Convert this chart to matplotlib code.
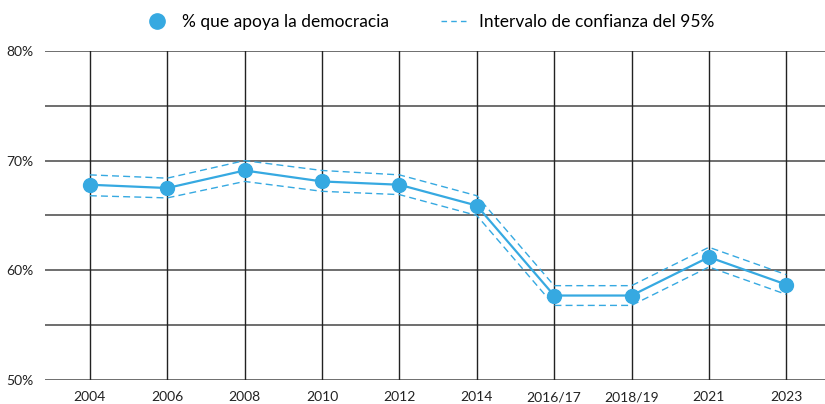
import matplotlib.pyplot as plt
from matplotlib.lines import Line2D

years = ["2004", "2006", "2008", "2010", "2012", "2014", "2016/17", "2018/19", "2021", "2023"]
apoyo = [67.8, 67.5, 69.1, 68.1, 67.8, 65.9, 57.7, 57.7, 61.2, 58.7]
ic_sup = [68.7, 68.4, 70.0, 69.1, 68.7, 66.8, 58.6, 58.6, 62.1, 59.6]
ic_inf = [66.8, 66.6, 68.1, 67.2, 66.9, 65.0, 56.8, 56.8, 60.3, 57.8]

azul = "#36a9e1"
plt.rcParams["font.family"] = ["Lato", "DejaVu Sans"]

fig = plt.figure(figsize=(8.25, 4.04), dpi=100)
ax = fig.add_axes([0.0545, 0.0594, 0.9455, 0.8146])

xs = list(range(len(years)))

# rejilla
for y in range(50, 81, 5):
    ax.axhline(y, color="#555555", lw=1.2, zorder=1)
for x in xs:
    ax.axvline(x, color="#222222", lw=1.0, zorder=1)

ax.plot(xs, ic_sup, color=azul, lw=1, ls=(0, (5, 3)), zorder=2)
ax.plot(xs, ic_inf, color=azul, lw=1, ls=(0, (5, 3)), zorder=2)
ax.plot(xs, apoyo, color=azul, lw=1.6, marker="o", ms=10, zorder=3)

ax.set_xlim(-0.58, 9.5)
ax.set_ylim(50, 80)
ax.set_xticks(xs)
ax.set_xticklabels(years)
ax.set_yticks([50, 60, 70, 80])
ax.set_yticklabels(["50%", "60%", "70%", "80%"])
ax.tick_params(length=0, labelsize=10, colors="#222222")
ax.tick_params(axis="x", pad=8)
ax.tick_params(axis="y", pad=8)
for s in ax.spines.values():
    s.set_visible(False)

handles = [
    Line2D([], [], color=azul, marker="o", ls="none", ms=11),
    Line2D([], [], color=azul, lw=1, ls=(0, (4, 3))),
]
fig.legend(handles, ["% que apoya la democracia", "Intervalo de confianza del 95%"],
           loc="center", bbox_to_anchor=(0.52, 0.945), ncol=2, frameon=False,
           fontsize=12.5, columnspacing=3, handlelength=1.6, handletextpad=0.6)

fig.savefig("out.png", dpi=100)
